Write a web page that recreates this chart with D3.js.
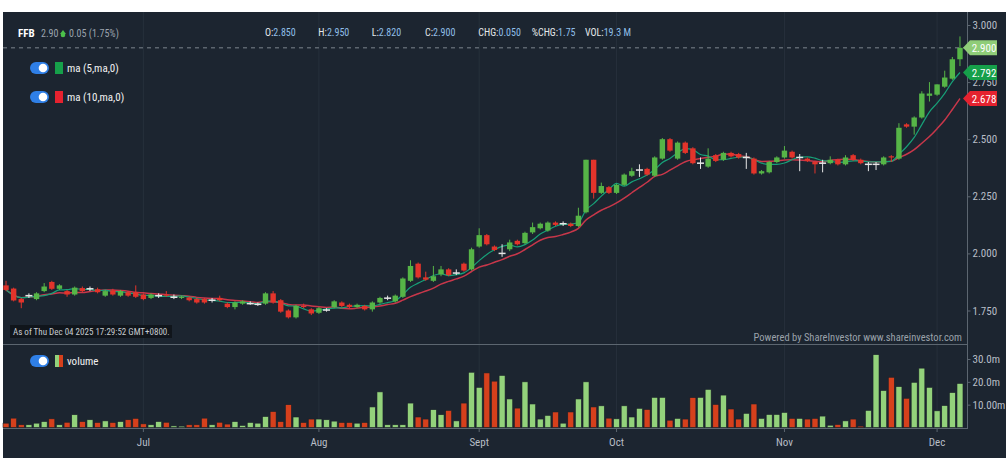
<!DOCTYPE html>
<html lang="en">
<head>
<meta charset="utf-8">
<title>FFB price and volume</title>
<script src="https://d3js.org/d3.v7.min.js"></script>
<style>
  body { margin: 0; background: #fff; }
  svg text { font-family: "Liberation Sans Narrow", "Roboto Condensed", Roboto, sans-serif; }
</style>
</head>
<body>
<div id="chart"></div>
<script>
// trading days, 2025
const jun = [3, 4, 5, 6, 10, 11, 12, 13, 16, 17, 18, 19, 20, 23, 24, 25, 26, 30]
const jul = [1, 2, 3, 4, 7, 8, 9, 10, 11, 14, 15, 16, 17, 18, 21, 22, 23, 24, 25, 28, 29, 30, 31]
const aug = [1, 4, 5, 6, 7, 8, 11, 12, 13, 14, 15, 18, 19, 20, 21, 22, 25, 26, 27, 28, 29]
const sep = [2, 3, 4, 8, 9, 10, 11, 12, 17, 18, 19, 22, 23, 24, 25, 26, 29, 30]
const oct = [1, 2, 3, 6, 7, 8, 9, 10, 13, 14, 15, 16, 17, 21, 22, 23, 24, 27, 28, 29, 30, 31]
const nov = [3, 4, 5, 6, 7, 10, 11, 12, 13, 14, 17, 18, 19, 20, 21, 24, 25, 26, 27, 28]
const dec = [1, 2, 3, 4]

// OHLC
const open = [1.86, 1.846, 1.80, 1.815, 1.80, 1.835, 1.875, 1.845, 1.835, 1.82,
  1.848, 1.845, 1.843, 1.815, 1.838, 1.815, 1.83, 1.83, 1.82, 1.805,
  1.815, 1.82, 1.808, 1.805, 1.807, 1.80, 1.80, 1.795, 1.805, 1.78,
  1.765, 1.78, 1.78, 1.777, 1.78, 1.825, 1.795, 1.75, 1.72, 1.77,
  1.755, 1.74, 1.752, 1.765, 1.785, 1.775, 1.765, 1.77, 1.755, 1.785,
  1.804, 1.79, 1.81, 1.88, 1.955, 1.895, 1.88, 1.908, 1.93, 1.914,
  1.955, 1.93, 2.03, 2.08, 2.03, 2.0, 2.018, 2.055, 2.045, 2.092,
  2.11, 2.10, 2.135, 2.13, 2.13, 2.12, 2.18, 2.41, 2.265, 2.29,
  2.265, 2.30, 2.34, 2.365, 2.37, 2.34, 2.415, 2.50, 2.415, 2.485,
  2.46, 2.395, 2.38, 2.43, 2.41, 2.44, 2.435, 2.42, 2.415, 2.35,
  2.355, 2.40, 2.42, 2.445, 2.42, 2.415, 2.40, 2.395, 2.395, 2.41,
  2.39, 2.43, 2.41, 2.39, 2.39, 2.39, 2.425, 2.415, 2.565, 2.555,
  2.595, 2.69, 2.695, 2.73, 2.765, 2.85]
const high = [1.88, 1.85, 1.805, 1.825, 1.83, 1.87, 1.88, 1.865, 1.84, 1.855,
  1.855, 1.855, 1.85, 1.84, 1.845, 1.84, 1.835, 1.86, 1.825, 1.825,
  1.825, 1.835, 1.82, 1.815, 1.81, 1.805, 1.805, 1.805, 1.815, 1.785,
  1.79, 1.795, 1.79, 1.785, 1.83, 1.835, 1.80, 1.755, 1.775, 1.78,
  1.76, 1.765, 1.76, 1.795, 1.79, 1.78, 1.78, 1.775, 1.79, 1.81,
  1.815, 1.82, 1.895, 1.97, 1.96, 1.92, 1.945, 1.945, 1.935, 1.93,
  1.96, 2.025, 2.11, 2.085, 2.035, 2.04, 2.06, 2.06, 2.095, 2.135,
  2.135, 2.14, 2.14, 2.14, 2.135, 2.20, 2.41, 2.41, 2.31, 2.295,
  2.305, 2.35, 2.375, 2.39, 2.375, 2.425, 2.505, 2.505, 2.49, 2.49,
  2.465, 2.42, 2.46, 2.435, 2.445, 2.445, 2.44, 2.44, 2.42, 2.365,
  2.405, 2.425, 2.47, 2.45, 2.435, 2.42, 2.405, 2.41, 2.425, 2.415,
  2.43, 2.435, 2.415, 2.40, 2.40, 2.425, 2.43, 2.57, 2.57, 2.60,
  2.71, 2.75, 2.74, 2.80, 2.86, 2.95]
const low = [1.835, 1.79, 1.76, 1.805, 1.795, 1.83, 1.84, 1.84, 1.81, 1.815,
  1.83, 1.835, 1.825, 1.81, 1.815, 1.81, 1.81, 1.805, 1.795, 1.80,
  1.805, 1.81, 1.80, 1.80, 1.79, 1.78, 1.78, 1.785, 1.79, 1.76,
  1.755, 1.775, 1.775, 1.77, 1.775, 1.78, 1.74, 1.715, 1.715, 1.76,
  1.73, 1.735, 1.745, 1.76, 1.765, 1.76, 1.76, 1.75, 1.745, 1.78,
  1.795, 1.785, 1.805, 1.875, 1.89, 1.88, 1.875, 1.90, 1.90, 1.905,
  1.92, 1.925, 2.025, 2.035, 2.01, 1.985, 2.01, 2.035, 2.04, 2.085,
  2.105, 2.095, 2.12, 2.12, 2.115, 2.115, 2.175, 2.24, 2.26, 2.26,
  2.26, 2.295, 2.335, 2.335, 2.34, 2.335, 2.41, 2.445, 2.41, 2.435,
  2.39, 2.37, 2.375, 2.40, 2.405, 2.42, 2.415, 2.37, 2.345, 2.345,
  2.35, 2.395, 2.415, 2.415, 2.36, 2.40, 2.35, 2.355, 2.39, 2.385,
  2.385, 2.405, 2.39, 2.36, 2.365, 2.385, 2.40, 2.41, 2.55, 2.52,
  2.59, 2.665, 2.69, 2.725, 2.76, 2.82]
const close = [1.84, 1.794, 1.785, 1.815, 1.825, 1.855, 1.845, 1.86, 1.82, 1.85,
  1.835, 1.845, 1.83, 1.835, 1.82, 1.835, 1.815, 1.81, 1.80, 1.82,
  1.815, 1.815, 1.808, 1.81, 1.795, 1.785, 1.785, 1.795, 1.795, 1.765,
  1.785, 1.79, 1.78, 1.777, 1.825, 1.785, 1.745, 1.72, 1.77, 1.765,
  1.737, 1.76, 1.752, 1.79, 1.77, 1.765, 1.775, 1.755, 1.785, 1.805,
  1.804, 1.815, 1.89, 1.945, 1.895, 1.885, 1.90, 1.93, 1.905, 1.914,
  1.925, 2.018, 2.08, 2.04, 2.015, 2.0, 2.048, 2.04, 2.09, 2.115,
  2.13, 2.135, 2.125, 2.13, 2.12, 2.165, 2.41, 2.265, 2.295, 2.265,
  2.30, 2.345, 2.36, 2.365, 2.345, 2.42, 2.50, 2.45, 2.485, 2.44,
  2.395, 2.395, 2.415, 2.405, 2.44, 2.425, 2.42, 2.42, 2.35, 2.36,
  2.40, 2.42, 2.45, 2.42, 2.42, 2.405, 2.39, 2.395, 2.41, 2.39,
  2.42, 2.41, 2.395, 2.39, 2.39, 2.42, 2.42, 2.55, 2.555, 2.595,
  2.70, 2.70, 2.74, 2.77, 2.85, 2.90]
// volume, millions
const volume = [1.9, 4.1, 1.2, 1.2, 1.9, 2.6, 3.8, 1.2, 2.3, 5.6,
  2.6, 3.4, 2.2, 2.9, 2.2, 2.6, 3.4, 4.0, 1.6, 1.2,
  2.6, 2.3, 0.7, 0.6, 1.2, 1.2, 4.1, 1.2, 2.3, 1.5,
  2.6, 0.9, 2.2, 1.9, 4.8, 7.0, 2.6, 10.0, 4.6, 2.2,
  3.7, 3.7, 3.4, 2.8, 2.2, 2.2, 1.9, 2.2, 9.0, 15.6,
  1.2, 1.2, 1.2, 10.7, 4.6, 3.7, 7.8, 5.6, 7.5, 2.9,
  10.7, 24.2, 17.6, 23.9, 20.3, 22.8, 12.5, 8.5, 20.0, 10.3,
  3.7, 5.3, 6.8, 1.9, 6.8, 12.5, 20.0, 9.0, 9.5, 4.1,
  3.8, 9.5, 4.6, 8.4, 7.9, 13.2, 13.2, 3.2, 4.0, 3.7,
  13.1, 13.2, 16.7, 10.1, 14.2, 8.1, 3.7, 6.2, 10.3, 4.0,
  5.7, 5.7, 6.6, 4.0, 4.0, 3.7, 4.0, 5.0, 1.0, 1.3,
  2.9, 3.7, 0.6, 7.5, 31.9, 16.2, 22.0, 17.9, 12.8, 19.8,
  26.0, 17.6, 7.3, 9.6, 15.3, 19.3]

const monthTicks = ["2025-07-01", "2025-08-01", "2025-09-02", "2025-10-01", "2025-11-03", "2025-12-01"]
const monthLabels = ["Jul", "Aug", "Sept", "Oct", "Nov", "Dec"]
const priceTicks = [1.75, 2.0, 2.25, 2.5, 2.75, 3.0]
const volTicks = [10, 20, 30]
const volTickLabels = ["10.00m", "20.0m", "30.0m"]
const header = [["O:", "2.850"], ["H:", "2.950"], ["L:", "2.820"], ["C:", "2.900"],
  ["CHG:", "0.050"], ["%CHG:", "1.75"], ["VOL:", "19.3 M"]]

const pad = d => String(d).padStart(2, "0")
const dates = [].concat(
  jun.map(d => "2025-06-" + pad(d)), jul.map(d => "2025-07-" + pad(d)),
  aug.map(d => "2025-08-" + pad(d)), sep.map(d => "2025-09-" + pad(d)),
  oct.map(d => "2025-10-" + pad(d)), nov.map(d => "2025-11-" + pad(d)),
  dec.map(d => "2025-12-" + pad(d)))

const rows = dates.map((d, i) => ({ date: d, o: open[i], h: high[i], l: low[i], c: close[i], v: volume[i] }))

// moving averages of close
function movingAvg(n) {
  return close.map((c, i) => d3.mean(close.slice(Math.max(0, i - n + 1), i + 1)))
}
const ma5 = movingAvg(5)
const ma10 = movingAvg(10)

const width = 1006, height = 461
const axisX = 967
const bg = "#1c2530", lineCol = "#5c6670", gridCol = "#26303b", tickText = "#b8bec6"
const upCol = "#56b547", downCol = "#e3342b", dojiCol = "#e6e6e6"
const volUp = "#93d27b", volDown = "#d6401c"

const svg = d3.select("#chart").append("svg")
  .attr("width", width).attr("height", height)

svg.append("rect").attr("x", 3).attr("y", 12).attr("width", width - 3).attr("height", 446).attr("fill", bg)

const x = d3.scaleBand().domain(dates).range([2.2, 963.8]).padding(0)
const xc = d => x(d) + x.bandwidth() / 2
const y = d3.scaleLinear().domain([1.75, 3.0]).range([310.5, 25])
const yv = d3.scaleLinear().domain([0, 30]).range([427.5, 359])

// month grid lines
svg.append("g").selectAll("line").data(monthTicks).join("line")
  .attr("x1", d => xc(d)).attr("x2", d => xc(d))
  .attr("y1", 12).attr("y2", 428)
  .attr("stroke", gridCol).attr("stroke-width", 1)

// separator and frame lines
svg.append("line").attr("x1", 3).attr("x2", axisX).attr("y1", 344.5).attr("y2", 344.5).attr("stroke", lineCol)
svg.append("line").attr("x1", axisX + 0.5).attr("x2", axisX + 0.5).attr("y1", 12).attr("y2", 428).attr("stroke", lineCol)

// last price dashed line
svg.append("line").attr("x1", 3).attr("x2", axisX)
  .attr("y1", y(close[close.length - 1])).attr("y2", y(close[close.length - 1]))
  .attr("stroke", "#7d858e").attr("stroke-dasharray", "4,4")

// price axis
const yAxis = svg.append("g").attr("transform", `translate(${axisX + 0.5},0)`)
  .call(d3.axisRight(y).tickValues(priceTicks).tickFormat(d3.format(".3f")).tickSize(3).tickPadding(2))
yAxis.select(".domain").remove()
yAxis.selectAll("line").attr("stroke", lineCol)
yAxis.selectAll("text").attr("fill", tickText).attr("font-size", 11)

// volume axis
const vAxis = svg.append("g").attr("transform", `translate(${axisX + 0.5},0)`)
  .call(d3.axisRight(yv).tickValues(volTicks).tickFormat((d, i) => volTickLabels[i]).tickSize(3).tickPadding(2))
vAxis.select(".domain").remove()
vAxis.selectAll("line").attr("stroke", lineCol)
vAxis.selectAll("text").attr("fill", tickText).attr("font-size", 11)

// time axis
const xAxis = svg.append("g").attr("transform", "translate(0,428)")
  .call(d3.axisBottom(x).tickValues(monthTicks).tickFormat((d, i) => monthLabels[i]).tickSize(4).tickPadding(6))
xAxis.select(".domain").attr("d", `M3,0.5H${axisX + 1}`).attr("stroke", lineCol)
xAxis.selectAll("line").attr("stroke", lineCol)
xAxis.selectAll("text").attr("fill", tickText).attr("font-size", 11)

// volume bars
svg.append("g").selectAll("rect").data(rows).join("rect")
  .attr("x", d => xc(d.date) - 3)
  .attr("width", 6)
  .attr("y", d => yv(d.v))
  .attr("height", d => yv(0) - yv(d.v))
  .attr("fill", d => d.c >= d.o ? volUp : volDown)
  .attr("stroke", "#1a2029").attr("stroke-width", 0.6)

// moving average lines
const maLine = d3.line().x((d, i) => xc(dates[i])).y(d => y(d)).curve(d3.curveMonotoneX)
svg.append("path").attr("d", maLine(ma10)).attr("fill", "none").attr("stroke", "#c8374a").attr("stroke-width", 1.5)
svg.append("path").attr("d", maLine(ma5)).attr("fill", "none").attr("stroke", "#17a078").attr("stroke-width", 1.2)

// candles
const candleCol = d => d.c > d.o ? upCol : d.c < d.o ? downCol : dojiCol
const candles = svg.append("g").selectAll("g").data(rows).join("g")
candles.append("line")
  .attr("x1", d => xc(d.date)).attr("x2", d => xc(d.date))
  .attr("y1", d => y(d.h)).attr("y2", d => y(d.l))
  .attr("stroke", candleCol).attr("stroke-width", 1)
candles.filter(d => d.c !== d.o).append("rect")
  .attr("x", d => xc(d.date) - 2.7)
  .attr("width", 5.4)
  .attr("y", d => y(Math.max(d.o, d.c)))
  .attr("height", d => Math.max(1, y(Math.min(d.o, d.c)) - y(Math.max(d.o, d.c))))
  .attr("fill", candleCol)
candles.filter(d => d.c === d.o).append("line")
  .attr("x1", d => xc(d.date) - 3.5).attr("x2", d => xc(d.date) + 3.5)
  .attr("y1", d => y(d.c)).attr("y2", d => y(d.c))
  .attr("stroke", dojiCol).attr("stroke-width", 1.5)

// value tags on the price axis
const tags = [
  { v: close[close.length - 1], fill: "#8fcd78" },
  { v: ma5[ma5.length - 1], fill: "#16a04a" },
  { v: ma10[ma10.length - 1], fill: "#e5222f" }
]
const tag = svg.append("g").selectAll("g").data(tags).join("g")
  .attr("transform", d => `translate(${axisX - 4},${y(d.v)})`)
tag.append("path").attr("d", "M0,0L7,-7.5H34V7.5H7Z").attr("fill", d => d.fill)
tag.append("text").attr("x", 21).attr("y", 4).attr("text-anchor", "middle")
  .attr("fill", "#fff").attr("font-size", 11).text(d => d3.format(".3f")(d.v))

// header line
const hd = svg.append("g")
hd.append("text").attr("x", 18).attr("y", 37).attr("fill", "#fff").attr("font-size", 11).attr("font-weight", "bold").text("FFB")
hd.append("text").attr("x", 41).attr("y", 37).attr("fill", "#9aa3ad").attr("font-size", 10).text("2.90")
hd.append("path").attr("d", "M63,30L66,34H60Z").attr("fill", "#4cc04a")
hd.append("circle").attr("cx", 63).attr("cy", 35).attr("r", 2.3).attr("fill", "#4cc04a")
hd.append("text").attr("x", 69).attr("y", 37).attr("fill", "#9aa3ad").attr("font-size", 10).text("0.05 (1.75%)")
const hx = d3.scalePoint().domain(header.map(d => d[0])).range([265, 585])
const hItem = hd.selectAll("g.h").data(header).join("text")
  .attr("x", d => hx(d[0])).attr("y", 36).attr("font-size", 10)
hItem.append("tspan").attr("fill", "#e4e7ea").text(d => d[0])
hItem.append("tspan").attr("fill", "#8fbfe8").text(d => d[1])

// legends
function toggle(g, cy) {
  g.append("rect").attr("x", 30).attr("y", cy - 6).attr("width", 19).attr("height", 12).attr("rx", 6).attr("fill", "#2f7fe6")
  g.append("circle").attr("cx", 43).attr("cy", cy).attr("r", 4.3).attr("fill", "#fff")
}
const legend = [
  { cy: 68, label: "ma (5,ma,0)", colors: ["#16a04a"] },
  { cy: 97, label: "ma (10,ma,0)", colors: ["#e5222f"] },
  { cy: 361, label: "volume", colors: ["#93d27b", "#d6401c"] }
]
legend.forEach(l => {
  const g = svg.append("g")
  toggle(g, l.cy)
  l.colors.forEach((c, i) => {
    g.append("rect").attr("x", 55 + i * 4).attr("y", l.cy - 6).attr("width", 8 / l.colors.length).attr("height", 12).attr("fill", c)
  })
  g.append("text").attr("x", 67).attr("y", l.cy + 4).attr("fill", "#f2f2f2").attr("font-size", 11).text(l.label)
})

// footnotes
svg.append("rect").attr("x", 10).attr("y", 325).attr("width", 162).attr("height", 13).attr("fill", "#10151b")
svg.append("text").attr("x", 13).attr("y", 335).attr("fill", "#c6cbd0").attr("font-size", 9)
  .text("As of Thu Dec 04 2025 17:29:52 GMT+0800.")
svg.append("text").attr("x", 962).attr("y", 341).attr("text-anchor", "end").attr("fill", "#9aa2aa").attr("font-size", 10.5)
  .text("Powered by ShareInvestor www.shareinvestor.com")
</script>
</body>
</html>
